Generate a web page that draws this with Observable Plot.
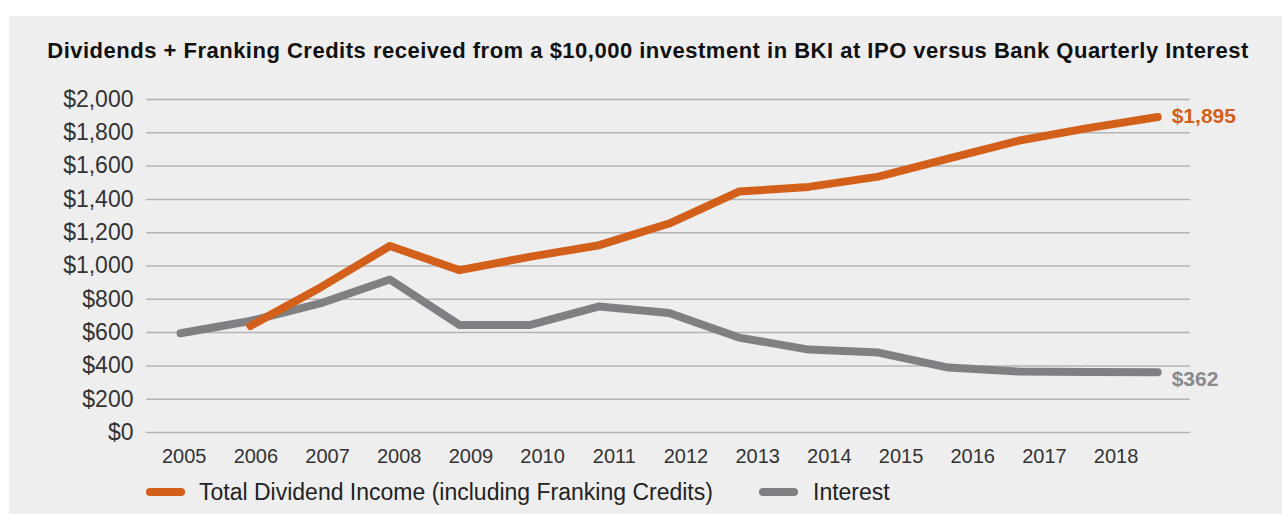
<!DOCTYPE html>
<html>
<head>
<meta charset="utf-8">
<script src="https://cdn.jsdelivr.net/npm/d3@7"></script>
<script src="https://cdn.jsdelivr.net/npm/@observablehq/plot@0.6"></script>
<style>
  html, body { margin: 0; padding: 0; background: #ffffff; width: 1282px; height: 514px; overflow: hidden;
    font-family: "Liberation Sans", Arial, Helvetica, sans-serif; }
  #panel { position: absolute; left: 9px; top: 16px; width: 1273px; height: 498px; background: #eeeeee; }
  #title { position: absolute; left: 0; top: 24px; width: 1278px; text-align: center; font-weight: bold;
    font-size: 22px; letter-spacing: 0.5px; color: #111111; line-height: 22px; white-space: nowrap; }
  #chart { position: absolute; left: 0; top: 64px; }
  .sw { position: absolute; height: 8px; border-radius: 4px; top: 472px; }
  .lg { position: absolute; top: 463px; font-size: 23px; line-height: 26px; color: #222222; white-space: nowrap; }
</style>
</head>
<body>
<div id="panel">
  <div id="title">Dividends + Franking Credits received from a $10,000 investment in BKI at IPO versus Bank Quarterly Interest</div>
  <div id="chart"></div>
  <div class="sw" style="left:137px;width:39px;background:#d2601a"></div>
  <div class="lg" style="left:190px">Total Dividend Income (including Franking Credits)</div>
  <div class="sw" style="left:750px;width:39px;background:#808084"></div>
  <div class="lg" style="left:804px">Interest</div>
</div>
<script>
// ---- data ----
const yearLabels = ["2005","2006","2007","2008","2009","2010","2011","2012","2013","2014","2015","2016","2017","2018"];
const dividendSeries = "Total Dividend Income (including Franking Credits)";
const interestSeries = "Interest";
// 15 plotted points (index 0..14); dividend has no value at the first point
const dividendValues = [null, 640, 870, 1120, 975, 1055, 1125, 1255, 1447, 1475, 1537, 1645, 1752, 1828, 1895];
const interestValues = [596, 670, 775, 919, 645, 645, 757, 718, 570, 498, 480, 390, 366, 364, 362];
const yTicks = [0, 200, 400, 600, 800, 1000, 1200, 1400, 1600, 1800, 2000];
const endLabels = ["$1,895", "$362"];

const ORANGE = "#d2601a", GREY = "#808084";

const divRows = dividendValues.map((v, i) => ({i, v})).filter(d => d.v != null);
const intRows = interestValues.map((v, i) => ({i, v}));

// year labels sit slightly offset from the point positions in the original
const tickPos = yearLabels.map((_, k) => 0.053 + 1.027 * k);
const labelAt = new Map(tickPos.map((p, k) => [p, yearLabels[k]]));

const fmt = d3.format(",");
const lastDiv = divRows[divRows.length - 1];
const lastInt = intRows[intRows.length - 1];

const chart = Plot.plot({
  width: 1273,
  height: 400,
  marginLeft: 137,
  marginRight: 92,
  marginTop: 19,
  marginBottom: 48,
  style: { background: "transparent", fontFamily: "'Liberation Sans', Arial, sans-serif", overflow: "visible" },
  x: { domain: [-0.487, 14.47], axis: null, label: null },
  y: { domain: [0, 2000], axis: null, label: null },
  marks: [
    Plot.ruleY(yTicks, { stroke: "#b4b4b6", strokeWidth: 1.5 }),
    Plot.axisY(yTicks, { label: null, tickSize: 0, tickPadding: 13, tickFormat: d => "$" + fmt(d), fontSize: 23, fill: "#333333" }),
    Plot.axisX(tickPos, { label: null, tickSize: 0, tickPadding: 16, tickFormat: d => labelAt.get(d), fontSize: 20, fill: "#333333" }),
    Plot.line(intRows, { x: "i", y: "v", stroke: GREY, strokeWidth: 8, strokeLinecap: "round", strokeLinejoin: "round" }),
    Plot.line(divRows, { x: "i", y: "v", stroke: ORANGE, strokeWidth: 8, strokeLinecap: "round", strokeLinejoin: "round" }),
    Plot.text([lastDiv], { x: "i", y: "v", text: () => endLabels[0], dx: 14, dy: -1, textAnchor: "start", fontWeight: "bold", fontSize: 21, fill: ORANGE }),
    Plot.text([lastInt], { x: "i", y: "v", text: () => endLabels[1], dx: 14, dy: 7, textAnchor: "start", fontWeight: "bold", fontSize: 21, fill: "#8a8a8e" })
  ]
});
document.getElementById("chart").appendChild(chart);
</script>
</body>
</html>
